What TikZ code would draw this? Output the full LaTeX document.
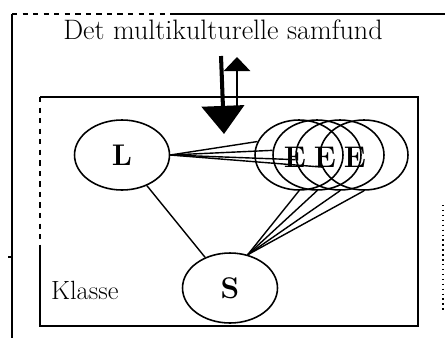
\documentclass[tikz,border=0pt]{standalone}
\usepackage{fontspec}
\usetikzlibrary{shapes.geometric, arrows.meta, positioning}

\begin{document}
\begin{tikzpicture}[x=0.02cm, y=-0.02cm,
  blob/.style={ellipse, draw, line width=0.9pt, minimum width=1.9cm, minimum height=1.4cm, inner sep=0pt},
  letter/.style={font=\fontsize{17}{17}\selectfont\bfseries, inner sep=0pt},
  link/.style={line width=0.8pt}]

  \useasboundingbox (0,0) rectangle (445,338);

  \def\ew{1.76cm} % width of the E ellipses

  % outer frame
  \draw[line width=1.2pt, dashed] (12,14) -- (170,14);
  \draw[line width=1pt] (170,14) -- (445,14);
  \draw[line width=1.4pt] (12,14) -- (12,338);
  \draw[line width=0.8pt] (8,257) -- (12,257);
  \draw[line width=0.8pt, dotted] (443,205) -- (443,310);

  \node[font=\fontsize{16}{19}\selectfont] (title) at (223,30) {Det multikulturelle samfund};

  % class box
  \draw[line width=1.2pt] (40,250) -- (40,326) -- (418,326) -- (418,97) -- (40,97);
  \draw[line width=1.4pt, dashed] (40,97) -- (40,250);
  \node[font=\fontsize{15}{17}\selectfont, anchor=west] (klasse) at (45,290) {Klasse};

  % arrows between society and class
  \coordinate (down top) at (221,56);
  \coordinate (down tip) at (224,134);
  \coordinate (up foot) at (237,108);
  \coordinate (up tip) at (237,57);
  \draw[-{Triangle[length=16pt, width=24pt]}, line width=2.3pt] (down top) -- (down tip);
  \draw[-{Triangle[length=8pt, width=15pt]}, line width=1.1pt] (up foot) -- (up tip);

  \node[blob] (L) at (122,155) {};
  \node[letter] at (L) {L};
  \node[blob] (S) at (230,288) {};
  \node[letter] at (S) {S};

  \foreach \x [count=\i] in {299,317,340,364}
    \node[blob, minimum width=\ew] (E\i) at (\x,155) {};
  \foreach \x [count=\i] in {295,325,355}
    \node[letter] (e\i) at (\x,157) {E};

  \foreach \a [count=\i] in {162,174,186,196}
    \draw[link] (L.east) -- (E\i.\a);
  \foreach \i in {1,...,4}
    \draw[link] (S.62) -- (E\i.south);
  \draw[link] (L) -- (S);

\end{tikzpicture}
\end{document}
